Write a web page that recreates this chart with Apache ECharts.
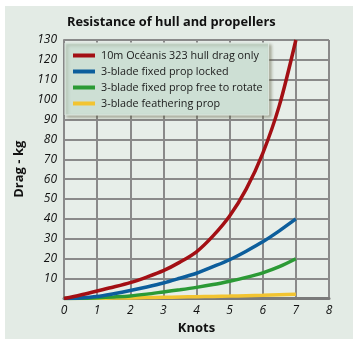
<!DOCTYPE html>
<html><head><meta charset="utf-8">
<script src="https://cdn.jsdelivr.net/npm/echarts@6/dist/echarts.min.js"></script>
<style>html,body{margin:0;padding:0;background:#fff}#c{width:359px;height:357px}</style>
</head><body><div id="c"></div>
<script>
var knots = [0, 0.5, 1, 1.5, 2, 2.5, 3, 3.5, 4, 4.5, 5, 5.5, 6, 6.5, 7];
var hullDrag = [0, 1.8, 3.8, 5.8, 8, 10.8, 14, 18.3, 23.5, 31.5, 41.5, 55, 73, 97, 130];
var propLocked = [0, 0.3, 1, 2.4, 4, 5.8, 7.8, 10.2, 12.7, 16, 19.5, 23.8, 28.5, 34, 40];
var propFree = [0, 0.1, 0.4, 0.8, 1.3, 2.2, 3.3, 4.4, 5.6, 7, 8.7, 10.6, 12.9, 16, 20];
var propFeather = [0, 0.05, 0.1, 0.2, 0.3, 0.45, 0.6, 0.75, 0.9, 1.05, 1.2, 1.4, 1.6, 1.9, 2.1];
var seriesNames = ['10m Océanis 323 hull drag only', '3-blade fixed prop locked', '3-blade fixed prop free to rotate', '3-blade feathering prop'];
var seriesValues = [hullDrag, propLocked, propFree, propFeather];
var colors = ['#a30f14', '#0c5e9c', '#2b9a35', '#f2c431'];
var font = '"Open Sans", "Noto Sans", sans-serif';

function pairs(vals){ return knots.map(function(k,i){ return [k, vals[i]]; }); }

var chart = echarts.init(document.getElementById('c'), null, {renderer:'canvas'});
chart.setOption({
  backgroundColor: '#ffffff',
  animation: false,
  graphic: [{type:'rect', z:-100, shape:{x:5, y:6, width:348, height:333}, style:{fill:'#e3ebe5'}}],
  title: {text:'Resistance of hull and propellers', left:62, top:11,
    textStyle:{fontFamily:font, fontWeight:'bold', fontSize:12.8, color:'#111'}},
  grid: {left:64, right:30, top:40, bottom:58.5, show:true, backgroundColor:'#e7eee9', borderWidth:0},
  legend: {orient:'vertical', left:65, top:43, icon:'rect', itemWidth:22, itemHeight:4, itemGap:5,
    padding:[7,6,6,8], backgroundColor:'#cddfd4', borderColor:'#dfe9e2', borderWidth:1,
    shadowBlur:3, shadowColor:'rgba(90,90,60,0.45)', shadowOffsetX:2, shadowOffsetY:2,
    textStyle:{fontFamily:font, fontSize:10.8, color:'#1a1a1a', padding:[0,0,0,1]},
    data: seriesNames},
  xAxis: {type:'value', min:0, max:8, interval:1, name:'Knots', nameLocation:'middle', nameGap:23,
    nameTextStyle:{fontFamily:font, fontWeight:'bold', fontSize:13, color:'#111'},
    axisLine:{show:true, lineStyle:{color:'#7a7a7a', width:3}}, axisTick:{show:false},
    axisLabel:{fontFamily:font, fontStyle:'italic', fontSize:12, color:'#111', margin:6},
    splitLine:{show:true, lineStyle:{color:'#8a8a8a', width:2}}},
  yAxis: {type:'value', min:0, max:130, interval:10, name:'Drag - kg', nameLocation:'middle', nameRotate:90, nameGap:28,
    nameTextStyle:{fontFamily:font, fontWeight:'bold', fontSize:13, color:'#111'},
    axisLine:{show:true, lineStyle:{color:'#8a8a8a', width:2}}, axisTick:{show:false},
    axisLabel:{fontFamily:font, fontStyle:'italic', fontSize:12, color:'#111', margin:7,
      formatter:function(v){ return v===0 ? '' : String(v); }},
    splitLine:{show:true, lineStyle:{color:'#8a8a8a', width:2}}},
  series: seriesNames.map(function(n,i){
    return {name:n, type:'line', smooth:0.3, symbol:'none', data:pairs(seriesValues[i]),
      lineStyle:{color:colors[i], width:3.5}, itemStyle:{color:colors[i]}, z:10-i};
  })
});
</script></body></html>
